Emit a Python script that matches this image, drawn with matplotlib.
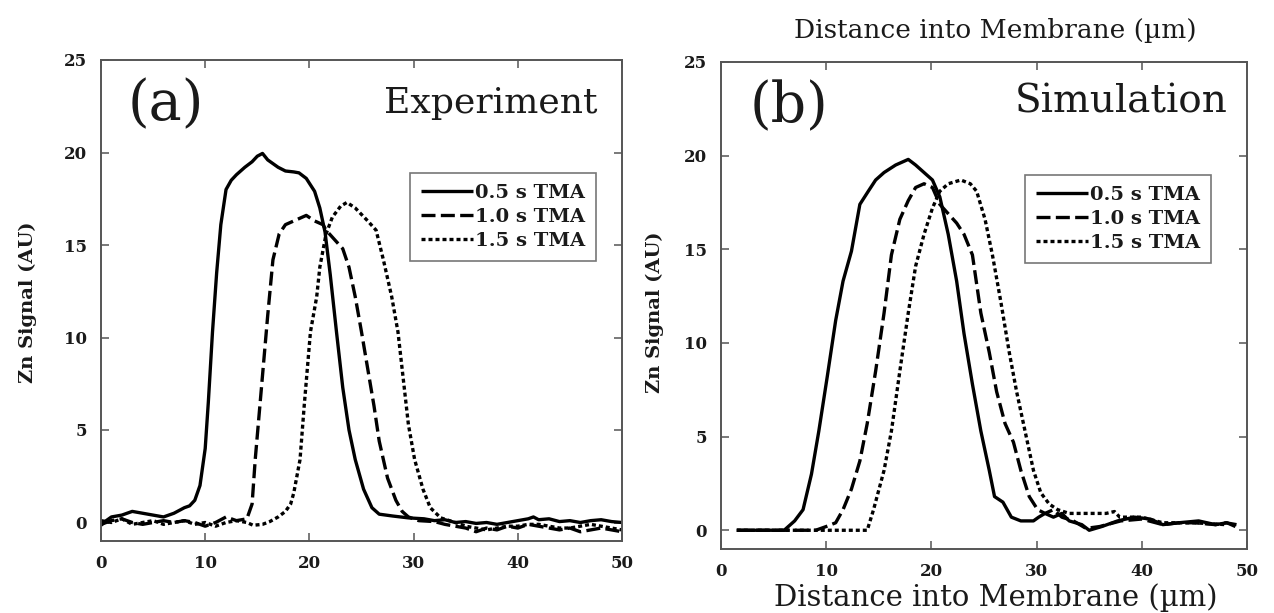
import matplotlib
matplotlib.use("Agg")
import matplotlib.pyplot as plt
from matplotlib.font_manager import FontProperties

# ---------------- data ----------------
# Panel (a) Experiment
exp_x_05 = [0, 0.5, 1, 2, 3, 4, 5, 6, 7, 8, 8.5, 9, 9.5, 10, 10.3, 10.7, 11.1, 11.5, 12, 12.5,
            13, 13.8, 14.5, 15, 15.5, 16, 16.5, 17, 17.7, 18.5, 19, 19.7, 20.5, 21, 21.5, 22, 22.6,
            23.2, 23.8, 24.4, 25.2, 26, 26.7, 28, 29.5, 31, 32, 33, 34, 35, 36, 37, 38, 39, 40, 41,
            41.5, 42, 43, 44, 45, 46, 47, 48, 49, 50]
exp_y_05 = [-0.15, 0.1, 0.3, 0.4, 0.6, 0.5, 0.4, 0.3, 0.5, 0.8, 0.9, 1.2, 2.0, 4.0, 6.5, 10.3, 13.5,
            16.1, 18.0, 18.5, 18.8, 19.2, 19.5, 19.8, 19.95, 19.6, 19.4, 19.2, 19.0, 18.95, 18.9,
            18.6, 17.9, 17.0, 15.7, 13.4, 10.3, 7.3, 5.0, 3.4, 1.8, 0.8, 0.45, 0.35, 0.25, 0.2,
            0.1, 0.15, 0.0, 0.05, -0.05, 0.0, -0.1, 0.0, 0.1, 0.2, 0.3, 0.15, 0.2, 0.05, 0.1, 0.0,
            0.1, 0.15, 0.05, 0.0]

exp_x_10 = [0, 1, 2, 3, 4, 5, 6, 7, 8, 9, 10, 11, 12, 13, 14, 14.5, 14.8, 15.4, 16, 16.5, 17.1,
            17.7, 18.9, 19.7, 20.5, 21.3, 21.6, 22.4, 23.2, 23.8, 24.4, 25, 25.6, 26.2, 26.7, 27.5,
            28.3, 28.9, 29.5, 30.5, 32, 33, 34, 35, 36, 37, 38, 39, 40, 41, 42, 43, 44, 45, 46, 47,
            48, 49, 50]
exp_y_10 = [-0.1, 0.1, 0.2, 0.0, -0.1, 0.0, 0.1, 0.0, 0.1, 0.0, -0.2, 0.0, 0.3, 0.1, 0.2, 1.0, 3.4,
            7.3, 11.2, 14.2, 15.6, 16.1, 16.4, 16.6, 16.3, 16.1, 15.8, 15.3, 14.8, 13.8, 12.2, 10.3,
            8.3, 6.3, 4.4, 2.4, 1.2, 0.6, 0.3, 0.1, 0.05, -0.1, -0.2, -0.3, -0.5, -0.3, -0.4, -0.2,
            -0.3, -0.1, -0.2, -0.3, -0.4, -0.3, -0.5, -0.4, -0.3, -0.4, -0.5]

exp_x_15 = [0, 1, 2, 3, 4, 5, 6, 7, 8, 9, 10, 11, 12, 13, 14, 14.6, 15.5, 16.2, 17, 17.7, 18.2,
            18.5, 19.1, 19.5, 20.1, 20.7, 21, 21.6, 22.2, 23, 23.6, 24.4, 25.6, 26.4, 27.1, 27.9,
            28.5, 28.9, 29.5, 30.1, 30.9, 31.6, 32.6, 34, 35, 36, 37, 38, 39, 40, 41, 42, 43, 44,
            45, 46, 47, 48, 49, 50]
exp_y_15 = [0.1, 0.0, 0.2, -0.1, 0.0, 0.1, -0.1, 0.0, 0.1, -0.1, 0.0, -0.2, 0.0, 0.1, 0.0, -0.15,
            -0.1, 0.05, 0.3, 0.6, 1.0, 1.6, 3.4, 6.3, 10.3, 12.2, 13.8, 15.6, 16.5, 17.1, 17.3,
            17.0, 16.3, 15.8, 14.2, 12.2, 10.3, 8.3, 5.3, 3.4, 1.8, 0.8, 0.25, 0.0, -0.2, -0.3,
            -0.4, -0.3, -0.2, -0.2, -0.1, -0.1, -0.2, -0.3, -0.3, -0.2, -0.1, -0.2, -0.3, -0.4]

# Panel (b) Simulation
sim_x_05 = [1.5, 3, 4, 5, 6, 7, 7.8, 8.6, 9.3, 10.1, 10.9, 11.6, 12.4, 13.2, 14, 14.7, 15.5, 16.6,
            17.8, 18.5, 19.3, 20.1, 20.8, 21.6, 22.4, 23.1, 23.9, 24.7, 25.5, 26, 26.8, 27.6, 28.5,
            29.7, 30.2, 30.8, 31.6, 32.4, 33.1, 34.3, 35, 36.2, 37.7, 39.3, 40.8, 42, 43.5, 45.4,
            47, 48.1, 48.9]
sim_y_05 = [0, 0, 0, 0, 0.0, 0.5, 1.1, 3.0, 5.3, 8.2, 11.2, 13.3, 14.9, 17.4, 18.1, 18.7, 19.1,
            19.5, 19.8, 19.5, 19.1, 18.7, 17.8, 15.8, 13.3, 10.5, 7.8, 5.3, 3.2, 1.8, 1.5, 0.7,
            0.5, 0.5, 0.7, 0.9, 0.7, 0.9, 0.5, 0.3, 0.0, 0.2, 0.5, 0.7, 0.6, 0.3, 0.4, 0.5, 0.3,
            0.4, 0.2]

sim_x_10 = [1.5, 3, 5, 7, 9, 10, 10.9, 11.6, 12.4, 13.2, 13.9, 14.7, 15.5, 16.2, 17, 17.8, 18.5,
            19.3, 20.1, 20.8, 21.6, 22.4, 23.1, 23.9, 24.7, 25.5, 26.2, 27, 27.8, 28.5, 29.3, 30.1,
            30.8, 31.6, 32.4, 33.5, 34.7, 36, 38, 40, 42, 43.5, 45, 47, 48, 49]
sim_y_10 = [0, 0, 0, 0, 0.0, 0.2, 0.4, 1.1, 2.2, 3.7, 5.7, 8.5, 11.6, 14.7, 16.6, 17.6, 18.3, 18.5,
            18.3, 17.4, 16.9, 16.4, 15.8, 14.7, 11.6, 9.5, 7.4, 5.7, 4.7, 3.2, 1.8, 1.1, 0.9, 1.1,
            0.7, 0.5, 0.1, 0.2, 0.5, 0.6, 0.3, 0.4, 0.4, 0.3, 0.4, 0.3]

sim_x_15 = [1.5, 4, 7, 10, 12, 13.9, 14.5, 15.5, 16.2, 17, 17.8, 18.5, 19.3, 20.1, 20.8, 21.6,
            22.8, 23.7, 24.3, 25.1, 25.8, 26.6, 27.4, 28.1, 28.9, 29.7, 30.4, 31.2, 32, 33.1, 34.7,
            36.6, 37.4, 37.9, 40, 42, 45, 48]
sim_y_15 = [0, 0, 0, 0, 0, 0.0, 1.1, 3.2, 5.3, 8.5, 11.6, 14.1, 15.8, 17.2, 18.1, 18.5, 18.7, 18.5,
            18.1, 16.6, 14.7, 12.2, 9.5, 7.4, 5.3, 3.2, 2.0, 1.4, 1.1, 0.9, 0.9, 0.9, 1.0, 0.7,
            0.7, 0.4, 0.4, 0.3]

series_labels = ["0.5 s TMA", "1.0 s TMA", "1.5 s TMA"]
x_ticks = [0, 10, 20, 30, 40, 50]
y_ticks = [0, 5, 10, 15, 20, 25]
panel_tags = ["(a)", "(b)"]
panel_titles = ["Experiment", "Simulation"]
y_label = "Zn Signal (AU)"
x_label = "Distance into Membrane (\u00b5m)"

# ---------------- style ----------------
W, H = 1274, 613
FAM = "DejaVu Serif"
TXT = "#1a1a1a"
SPINE = "#555555"
LW = 2.4
styles = ["-", (0, (4.2, 1.6)), (0, (1.2, 0.9))]

fig = plt.figure(figsize=(W / 100, H / 100), dpi=100)
fig.patch.set_facecolor("white")

ax_a = fig.add_axes([101 / W, (H - 541) / H, 521 / W, 481 / H])
ax_b = fig.add_axes([721 / W, (H - 549) / H, 526 / W, 487 / H])

data_a = [(exp_x_05, exp_y_05), (exp_x_10, exp_y_10), (exp_x_15, exp_y_15)]
data_b = [(sim_x_05, sim_y_05), (sim_x_10, sim_y_10), (sim_x_15, sim_y_15)]

tick_fp = FontProperties(family=FAM, weight="bold", size=12)
leg_fp = FontProperties(family=FAM, weight="bold", size=14)

legend_anchor = [(0.950, 0.765), (0.932, 0.768)]
tag_pos = [(0.052, 0.907), (0.055, 0.908)]
title_pos = [(0.953, 0.890), (0.963, 0.897)]
title_size = [26, 28]

for i, (ax, data) in enumerate([(ax_a, data_a), (ax_b, data_b)]):
    for (xs, ys), ls, lab in zip(data, styles, series_labels):
        ax.plot(xs, ys, color="black", lw=LW, linestyle=ls, label=lab,
                solid_capstyle="butt", dash_capstyle="butt")
    ax.set_xlim(0, 50)
    ax.set_ylim(-1, 25)
    ax.set_xticks(x_ticks)
    ax.set_yticks(y_ticks)
    ax.set_xticklabels([str(v) for v in x_ticks], fontproperties=tick_fp, color=TXT)
    ax.set_yticklabels([str(v) for v in y_ticks], fontproperties=tick_fp, color=TXT)
    ax.tick_params(direction="in", length=6, width=1.1, color=SPINE,
                   top=True, right=True, pad=10)
    for sp in ax.spines.values():
        sp.set_color(SPINE)
        sp.set_linewidth(1.4)
    leg = ax.legend(loc="upper right", bbox_to_anchor=legend_anchor[i], borderaxespad=0,
                    prop=leg_fp, handlelength=2.7, handletextpad=0.1, borderpad=0.55,
                    labelspacing=0.32, frameon=True, fancybox=False, framealpha=1,
                    edgecolor="#777777")
    leg.get_frame().set_linewidth(1.2)
    for t in leg.get_texts():
        t.set_color(TXT)
    ax.text(tag_pos[i][0], tag_pos[i][1], panel_tags[i], transform=ax.transAxes,
            ha="left", va="center", family=FAM, size=40, color=TXT)
    ax.text(title_pos[i][0], title_pos[i][1], panel_titles[i], transform=ax.transAxes,
            ha="right", va="baseline", family=FAM, size=title_size[i], color=TXT)

# y labels
fig.text(28 / W, 1 - 302 / H, y_label, rotation=90, ha="center", va="center",
         family=FAM, weight="bold", size=14, color=TXT)
fig.text(655 / W, 1 - 312 / H, y_label, rotation=90, ha="center", va="center",
         family=FAM, weight="bold", size=14, color=TXT)

# x labels (top and bottom of right panel)
fig.text(995 / W, 1 - 38 / H, x_label, ha="center", va="baseline",
         family=FAM, size=19, color=TXT)
fig.text(996 / W, 1 - 606 / H, x_label, ha="center", va="baseline",
         family=FAM, size=21, color=TXT)

fig.savefig("out.png", dpi=100, facecolor="white")
